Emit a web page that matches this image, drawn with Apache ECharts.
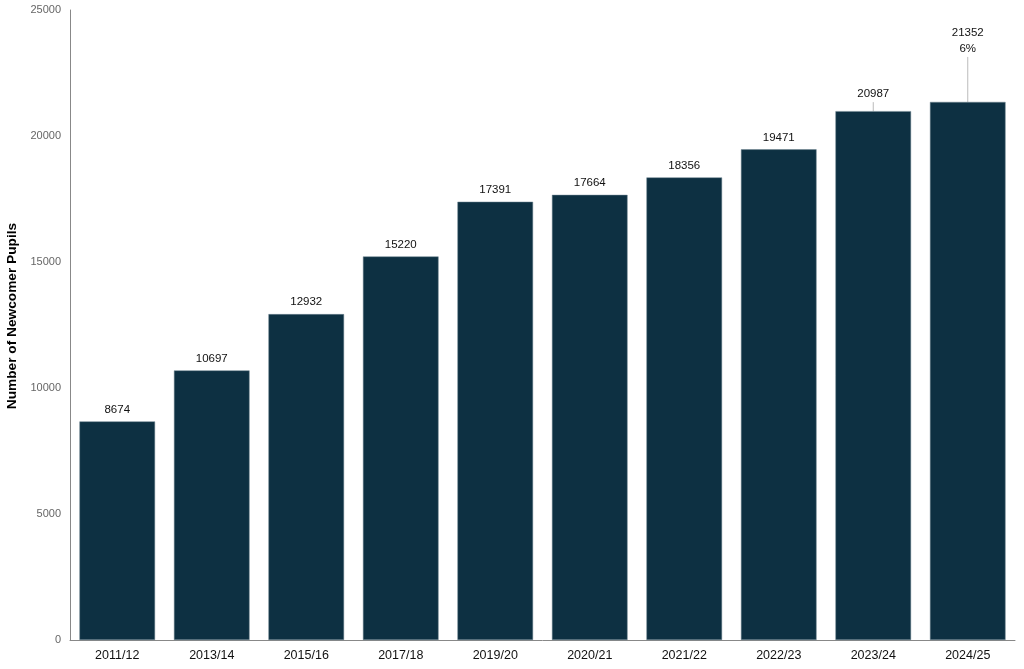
<!DOCTYPE html>
<html>
<head>
<meta charset="utf-8">
<script src="https://cdn.jsdelivr.net/npm/echarts@6/dist/echarts.min.js"></script>
<style>
html, body { margin: 0; padding: 0; background: #fff; }
#chart { width: 1024px; height: 669px; }
</style>
</head>
<body>
<div id="chart"></div>
<script>
var years = ['2011/12', '2013/14', '2015/16', '2017/18', '2019/20', '2020/21', '2021/22', '2022/23', '2023/24', '2024/25'];
var pupils = [8674, 10697, 12932, 15220, 17391, 17664, 18356, 19471, 20987, 21352];
var extraText = ['', '', '', '', '', '', '', '', '', '6%'];
// labels lifted off the bar (with a leader line)
var liftedLabels = [0, 0, 0, 0, 0, 0, 0, 0, 5, 41];

var myChart = echarts.init(document.getElementById('chart'));

var barData = pupils.map(function (v, i) {
    return {
        value: v,
        labelLine: { show: liftedLabels[i] > 0 }
    };
});

var option = {
    animation: false,
    grid: { left: 70, right: 9, top: 10, bottom: 29, containLabel: false, outerBoundsMode: 'none' },
    xAxis: {
        type: 'category',
        data: years,
        axisLine: { lineStyle: { color: '#888', width: 1 } },
        axisTick: { show: false },
        axisLabel: { color: '#111', fontSize: 12.5, fontFamily: 'Liberation Sans', margin: 9 }
    },
    yAxis: {
        type: 'value',
        min: 0,
        max: 25000,
        interval: 5000,
        name: 'Number of Newcomer Pupils',
        nameLocation: 'middle',
        nameGap: 44,
        nameTextStyle: {
            color: '#000', fontSize: 13.7, fontWeight: 'bold', fontFamily: 'Liberation Sans',
            padding: [0, 0, 0, 18]
        },
        axisLine: { show: true, lineStyle: { color: '#888', width: 1 } },
        axisTick: { show: false },
        splitLine: { show: false },
        axisLabel: {
            color: '#666', fontSize: 11, fontFamily: 'Liberation Sans', margin: 9,
            formatter: function (v) { return String(v); }
        }
    },
    series: [{
        type: 'bar',
        data: barData,
        barCategoryGap: '20%',
        itemStyle: { color: '#0d3042', borderColor: '#6f8591', borderWidth: 0.5 },
        label: {
            show: true,
            position: 'top',
            distance: 4,
            color: '#111',
            fontSize: 11.5,
            fontFamily: 'Liberation Sans',
            lineHeight: 16,
            align: 'center',
            formatter: function (p) {
                var t = extraText[p.dataIndex];
                return t ? p.value + '\n' + t : String(p.value);
            }
        },
        labelLine: { lineStyle: { color: '#bbb', width: 1 } },
        labelLayout: function (p) {
            return { dy: -liftedLabels[p.dataIndex] };
        }
    }]
};

myChart.setOption(option);
</script>
</body>
</html>
